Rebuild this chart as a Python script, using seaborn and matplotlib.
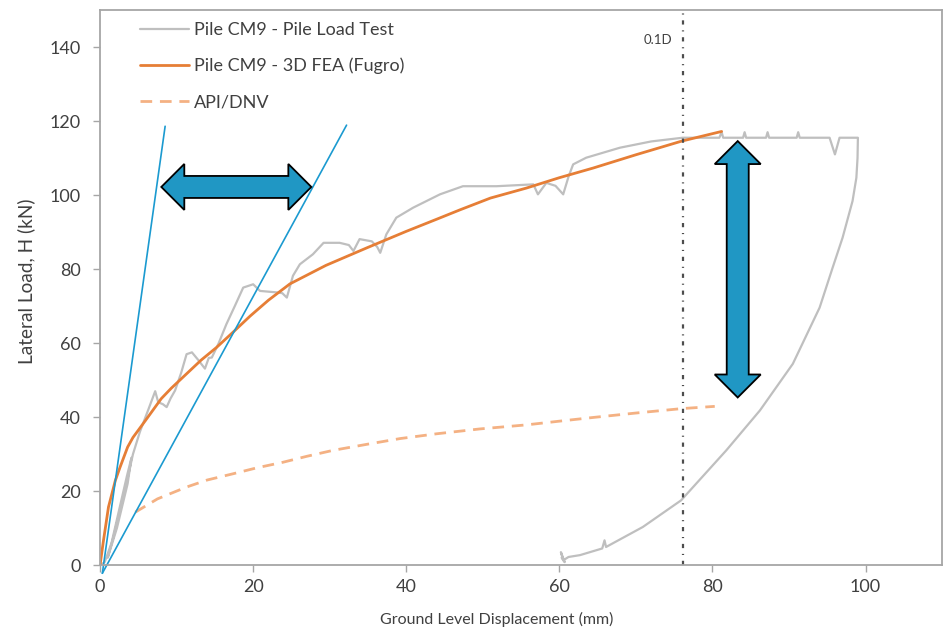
import numpy as np
import matplotlib
matplotlib.use("Agg")
import matplotlib.pyplot as plt
import seaborn as sns
from matplotlib.patches import Polygon

# pile load test (gray) - loading, plateau and unloading
test_disp = [0, 0.6, 1.5, 2.5, 3.5, 4.1, 3.6, 2.2, 1.0, 1.8, 3.0, 4.3, 5.2, 6.3, 7.2,
             7.6, 8.2, 8.7, 9.2, 9.8, 10.6, 11.3, 12.0, 12.8, 13.7, 14.2, 14.6, 15.5,
             16.5, 17.6, 18.7, 20.0, 20.9, 23.1, 23.8, 24.4, 25.2, 26.1, 27.8, 29.2,
             31.3, 32.5, 33.1, 33.9, 35.5, 36.2, 36.6, 37.4, 38.7, 40.9, 44.4, 47.4,
             51.8, 56.6, 57.2, 58.3, 59.5, 60.5, 61.2, 61.8, 63.5, 67.9, 72.0, 76.1,
             80.9, 81.2, 81.4, 84.0, 84.2, 84.4, 87.0, 87.2, 87.4, 91.0, 91.2, 91.4,
             95.3, 96.0, 96.6, 99.0, 98.95, 98.8, 98.3, 97.0, 95.7, 94.0, 90.5, 86.2,
             81.8, 75.9, 70.9, 66.1, 65.9, 65.6, 62.7, 61.2, 60.5, 60.2, 60.7, 60.3]
test_load = [0, 0.8, 6, 15, 24, 29, 22, 10, 2, 8, 18, 30, 36, 42, 47,
             44, 43.5, 42.7, 45, 47.2, 52, 57, 57.5, 55.5, 53.1, 56, 56.1, 60,
             65.1, 70, 75, 75.9, 74.1, 73.7, 73.5, 72.3, 78.2, 81.3, 84, 87.1,
             87.1, 86.5, 84.9, 88.1, 87.5, 86, 84.4, 89.4, 93.9, 96.6, 100.2, 102.4,
             102.4, 102.9, 100.2, 103.3, 102.5, 100.2, 105, 108.3, 110.1, 112.8, 114.5, 115.5,
             115.5, 117, 115.5, 115.5, 117, 115.5, 115.5, 117, 115.5, 115.5, 117, 115.5,
             115.5, 111, 115.5, 115.5, 110, 104.7, 98.4, 88.5, 80.4, 69.6, 54.4, 41.8,
             31.0, 17.5, 10.3, 4.9, 6.7, 4.5, 2.7, 2.2, 1.3, 3.5, 0.8, 2]

# 3D FEA (Fugro)
fea_disp = [0, 0.4, 1.1, 2.0, 2.6, 3.6, 4.3, 5.9, 8.0, 9.3, 11.3, 13.2, 15.2, 17.4,
            19.6, 22.0, 24.8, 29.5, 34.8, 40.0, 44.0, 47.0, 51.0, 55.7, 60.0, 64.4,
            70.0, 76.0, 81.2]
fea_load = [0, 6, 15.7, 22.9, 26.4, 31.9, 34.5, 39, 45, 47.8, 51.7, 55.4, 58.8, 63,
            67.3, 71.6, 76, 81, 85.7, 90.2, 93.5, 96.0, 99.2, 101.9, 104.7, 107.3,
            110.9, 114.6, 117.2]

# API/DNV
api_disp = [4.6, 7.5, 11.3, 14.0, 17.4, 20.5, 23.9, 27.0, 30.4, 35.0, 39.2, 44.0,
            49.6, 55.7, 60.0, 64.4, 70.0, 76.0, 80.3]
api_load = [14.3, 17.9, 21.1, 23.0, 24.7, 26.3, 27.8, 29.4, 31.0, 32.7, 34.2, 35.5,
            36.8, 37.9, 38.9, 39.9, 41.1, 42.3, 42.9]

# initial stiffness lines
tan1_disp = [0.3, 8.5]
tan1_load = [-2.2, 118.6]
tan2_disp = [0.3, 32.2]
tan2_load = [-2.2, 118.9]

d01 = 76.1

sns.set_style("white")
plt.rcParams['font.family'] = ['Lato', 'DejaVu Sans']

fig, ax = plt.subplots(figsize=(9.44, 6.3), dpi=100)
fig.subplots_adjust(left=0.106, right=0.998, bottom=0.103, top=0.984)

sns.lineplot(x=test_disp, y=test_load, sort=False, color='#BFBFBF', lw=1.6,
             label='Pile CM9 - Pile Load Test', ax=ax, estimator=None)
sns.lineplot(x=fea_disp, y=fea_load, sort=False, color='#E67E36', lw=2.0,
             label='Pile CM9 - 3D FEA (Fugro)', ax=ax, estimator=None)
sns.lineplot(x=api_disp, y=api_load, sort=False, color='#F4B183', lw=2.0,
             label='API/DNV', ax=ax, estimator=None)
ax.lines[-1].set_dashes([4.2, 2.8])
sns.lineplot(x=tan1_disp, y=tan1_load, sort=False, color='#1B9AD0', lw=1.2,
             ax=ax, estimator=None, clip_on=False)
sns.lineplot(x=tan2_disp, y=tan2_load, sort=False, color='#1B9AD0', lw=1.2,
             ax=ax, estimator=None, clip_on=False)

ax.axvline(d01, color='#4D4D4D', lw=1.6, ls=(0, (1.9, 2.6, 0.5, 2.6)))
ax.text(d01 - 1.3, 142, '0.1D', fontsize=9.5, color='#404040', ha='right', va='center')

ax.set_xlim(0, 110)
ax.set_ylim(0, 150)
ax.set_xticks(range(0, 101, 20))
ax.set_yticks(range(0, 141, 20))
ax.set_xlabel('Ground Level Displacement (mm)', fontsize=11.5, color='#404040')
ax.set_ylabel('Lateral Load, H (kN)', fontsize=13.7, color='#404040')
ax.xaxis.set_label_coords(0.471, -0.085)
ax.yaxis.set_label_coords(-0.077, 0.511)
ax.tick_params(axis='both', which='major', labelsize=13, labelcolor='#404040',
               color='#A6A6A6', length=5, width=1, direction='out', bottom=True, left=True)
ax.tick_params(axis='y', pad=9)
ax.tick_params(axis='x', pad=5)
for s in ax.spines.values():
    s.set_color('#A6A6A6')
    s.set_linewidth(1.3)


def double_arrow(p0, p1, shaft=22, head_w=46, head_l=23):
    # block arrow with two heads, sizes in pixels
    a = ax.transData.transform(p0)
    b = ax.transData.transform(p1)
    d = (b - a) / np.linalg.norm(b - a)
    n = np.array([-d[1], d[0]])
    L = np.linalg.norm(b - a)
    pts = []
    for t, w in [(0, 0), (head_l, head_w / 2), (head_l, shaft / 2),
                 (L - head_l, shaft / 2), (L - head_l, head_w / 2), (L, 0),
                 (L - head_l, -head_w / 2), (L - head_l, -shaft / 2),
                 (head_l, -shaft / 2), (head_l, -head_w / 2)]:
        pts.append(a + d * t + n * w)
    pts = ax.transData.inverted().transform(np.array(pts))
    ax.add_patch(Polygon(pts, closed=True, fc='#2097C4', ec='black', lw=1.3, zorder=5))


double_arrow((8.0, 102.2), (27.6, 102.2))
double_arrow((83.3, 114.6), (83.3, 45.3))

leg = ax.legend(loc='upper left', bbox_to_anchor=(0.028, 1.008), frameon=False,
                fontsize=13, handlelength=2.7, handletextpad=0.3, labelspacing=1.1)
for t in leg.get_texts():
    t.set_color('#404040')

fig.savefig('out.png', dpi=100)
